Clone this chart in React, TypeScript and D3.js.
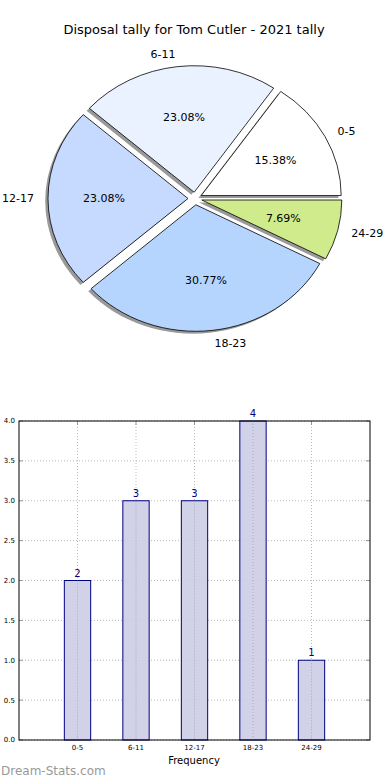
import React from "react";
import * as d3 from "d3";

// chart data
const categories = ["0-5", "6-11", "12-17", "18-23", "24-29"];
const counts = [2, 3, 3, 4, 1];
const sliceColors = ["#ffffff", "#eaf2ff", "#c6d9ff", "#b5d5ff", "#d0eb8c"];
const yTicks = [0, 0.5, 1, 1.5, 2, 2.5, 3, 3.5, 4];

const W = 390;
const H = 780;
const FONT = "DejaVu Sans, sans-serif";

const App = () => {
  // pie geometry (matplotlib style: start at 3 o'clock, counter-clockwise, elliptic axes)
  const cx = 195;
  const cy = 198.5;
  const rx = 140;
  const ry = 126.5;
  const sy = ry / rx;
  const explode = 0.05;

  const pie = d3
    .pie<number>()
    .sort(null)
    .startAngle(Math.PI / 2)
    .endAngle(Math.PI / 2 - 2 * Math.PI);
  const arcs = pie(counts);
  const total = d3.sum(counts);
  const arc = d3.arc<d3.PieArcDatum<number>>().innerRadius(0).outerRadius(rx);

  const offset = (a: number, k: number) => [
    k * rx * Math.sin(a),
    -k * ry * Math.cos(a),
  ];

  // bar chart geometry
  const m = { left: 19, right: 370, top: 421, bottom: 740 };
  const x = d3.scaleLinear().domain([-1, 5]).range([m.left, m.right]);
  const y = d3.scaleLinear().domain([0, 4]).range([m.bottom, m.top]);
  const barW = x(0.45) - x(0);

  return (
    <svg
      width={W}
      height={H}
      style={{ position: "absolute", left: 0, top: 0, background: "#fff" }}
      fontFamily={FONT}
    >
      <rect width={W} height={H} fill="#fff" />
      <text x={194} y={34} textAnchor="middle" fontSize={13}>
        Disposal tally for Tom Cutler - 2021 tally
      </text>

      {/* shadows */}
      {arcs.map((d, i) => {
        const mid = (d.startAngle + d.endAngle) / 2;
        const [ox, oy] = offset(mid, explode);
        return (
          <path
            key={"s" + i}
            d={arc(d) as string}
            transform={`translate(${cx + ox - 2.8},${cy + oy + 2.5}) scale(1,${sy})`}
            fill="#000"
            fillOpacity={0.4}
          />
        );
      })}

      {/* wedges */}
      {arcs.map((d, i) => {
        const mid = (d.startAngle + d.endAngle) / 2;
        const [ox, oy] = offset(mid, explode);
        return (
          <path
            key={"w" + i}
            d={arc(d) as string}
            transform={`translate(${cx + ox},${cy + oy}) scale(1,${sy})`}
            fill={sliceColors[i]}
            stroke="#000"
            strokeWidth={0.8}
            vectorEffect="non-scaling-stroke"
          />
        );
      })}

      {/* labels */}
      {arcs.map((d, i) => {
        const mid = (d.startAngle + d.endAngle) / 2;
        const [lx, ly] = offset(mid, explode + 1.1);
        const [px, py] = offset(mid, explode + 0.6);
        const sx = Math.sin(mid);
        const anchor = Math.abs(sx) < 1e-6 ? "middle" : sx > 0 ? "start" : "end";
        return (
          <g key={"l" + i} fontSize={11}>
            <text x={cx + lx} y={cy + ly} dy="0.35em" textAnchor={anchor}>
              {categories[i]}
            </text>
            <text x={cx + px} y={cy + py} dy="0.35em" textAnchor="middle">
              {((counts[i] / total) * 100).toFixed(2) + "%"}
            </text>
          </g>
        );
      })}

      {/* bar chart grid */}
      {yTicks.map((t) => (
        <g key={"gy" + t}>
          <line
            x1={m.left}
            x2={m.right}
            y1={y(t)}
            y2={y(t)}
            stroke="#bbb"
            strokeDasharray="1,2"
          />
          <line x1={m.left} x2={m.left + 4} y1={y(t)} y2={y(t)} stroke="#999" />
          <line x1={m.right - 4} x2={m.right} y1={y(t)} y2={y(t)} stroke="#999" />
          <text
            x={m.left - 4}
            y={y(t)}
            dy="0.35em"
            textAnchor="end"
            fontSize={7}
          >
            {t.toFixed(1)}
          </text>
        </g>
      ))}
      {categories.map((c, i) => (
        <g key={"gx" + c}>
          <line
            x1={x(i)}
            x2={x(i)}
            y1={m.top}
            y2={m.bottom}
            stroke="#bbb"
            strokeDasharray="1,2"
          />
          <line x1={x(i)} x2={x(i)} y1={m.bottom - 4} y2={m.bottom} stroke="#999" />
          <line x1={x(i)} x2={x(i)} y1={m.top} y2={m.top + 4} stroke="#999" />
          <text x={x(i)} y={750} textAnchor="middle" fontSize={7}>
            {c}
          </text>
        </g>
      ))}

      {/* bars */}
      {counts.map((v, i) => (
        <g key={"b" + i}>
          <rect
            x={x(i) - barW / 2}
            y={y(v)}
            width={barW}
            height={y(0) - y(v)}
            fill="#cccce6"
            fillOpacity={0.9}
            stroke="#000080"
            strokeWidth={1}
          />
          <text
            x={x(i)}
            y={y(v) - 4}
            textAnchor="middle"
            fontSize={10}
            fill="#000080"
          >
            {v}
          </text>
        </g>
      ))}
      {/* grid shows through the bars */}
      {categories.map((c, i) => (
        <line
          key={"gx2" + c}
          x1={x(i)}
          x2={x(i)}
          y1={y(counts[i])}
          y2={m.bottom}
          stroke="#999"
          strokeOpacity={0.6}
          strokeDasharray="1,2"
        />
      ))}

      <rect
        x={m.left}
        y={m.top}
        width={m.right - m.left}
        height={m.bottom - m.top}
        fill="none"
        stroke="#000"
        strokeWidth={1}
      />
      <text x={194} y={764} textAnchor="middle" fontSize={10}>
        Frequency
      </text>
      <text x={1} y={775} fontSize={12} fill="#999">
        Dream-Stats.com
      </text>
    </svg>
  );
};

export default App;
